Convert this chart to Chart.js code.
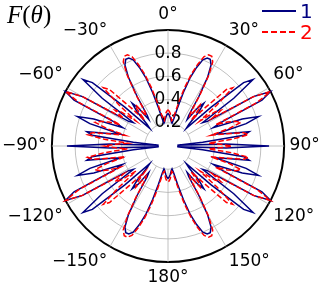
<!DOCTYPE html>
<html>
<head>
<meta charset="utf-8">
<script src="https://cdn.jsdelivr.net/npm/chart.js@4"></script>
<style>
  body { margin: 0; background: #fff; }
  #wrap { position: relative; width: 322px; height: 284px; overflow: hidden; }
  #polar { position: absolute; left: -5px; top: -1px; }
  .ylab { position: absolute; left: 7px; top: 1px; font-family: 'Liberation Serif', serif; font-size: 25px; color: #000; }
  .ylab i { font-style: italic; }
  .leg { position: absolute; left: 300px; font-family: 'DejaVu Sans', sans-serif; font-size: 20px; line-height: 20px; }
  .sw { position: absolute; left: 262px; width: 34px; height: 1.6px; }
</style>
</head>
<body>
<div id="wrap">
  <canvas id="polar" width="332" height="294"></canvas>
  <div class="ylab"><i>F</i>(<i>θ</i>)</div>
  <div class="sw" style="top:10px; background:#000080;"></div>
  <div class="leg" style="top:1px; color:#000080;">1</div>
  <div class="sw" style="top:31px; background:repeating-linear-gradient(to right,#ff0000 0 6px,transparent 6px 9px);"></div>
  <div class="leg" style="top:22px; color:#ff0000;">2</div>
</div>
<script>
// pattern for 0..90 deg, every 2 deg
// (the plot is mirror symmetric about both axes)
const quarterAngles = [0,2,4,6,8,10,12,14,16,18,20,22,24,26,28,30,32,34,36,38,40,42,44,
  46,48,50,52,54,56,58,60,62,64,66,68,70,72,74,76,78,80,82,84,86,88,90];
const series1Quarter = [0.28,0.27,0.25,0.23,0.21,0.20,0.24,0.34,0.48,0.62,0.72,0.80,0.83,0.83,0.79,0.68,0.50,0.32,
  0.28,0.42,0.48,0.40,0.26,0.22,0.50,0.85,0.93,0.70,0.36,0.40,0.85,1.00,0.90,0.50,0.42,0.68,0.82,0.70,0.42,
  0.52,0.71,0.66,0.30,0.08,0.50,0.87];
const series2Quarter = [0.31,0.30,0.28,0.25,0.22,0.23,0.29,0.40,0.53,0.65,0.75,0.83,0.86,0.86,0.82,0.70,0.52,0.35,
  0.32,0.45,0.42,0.30,0.45,0.70,0.75,0.55,0.35,0.50,0.55,0.45,0.85,1.00,0.85,0.45,0.55,0.62,0.66,0.55,0.38,
  0.50,0.66,0.70,0.55,0.35,0.45,0.55];
const thetaTicks = [0, 30, 60, 90, 120, 150, 180, -150, -120, -90, -60, -30];
const radialTicks = [0.2, 0.4, 0.6, 0.8];

// full circle, clockwise from the top
const angleLabels = [];
for (let a = 0; a < 360; a += 2) angleLabels.push(a <= 180 ? a : a - 360);

function unfold(q) {
  return angleLabels.map(a => {
    let t = Math.abs(a);
    if (t > 90) t = 180 - t;
    return q[quarterAngles.indexOf(t)];
  });
}

function fmtAngle(a) {
  return (a < 0 ? '\u2212' + (-a) : '' + a) + '°';
}

const ctx = document.getElementById('polar').getContext('2d');
const chart = new Chart(ctx, {
  type: 'radar',
  data: {
    labels: angleLabels,
    datasets: [{
      label: '1',
      data: unfold(series1Quarter),
      borderColor: '#000080',
      borderWidth: 1.5,
      pointRadius: 0,
      fill: false,
      order: 1
    }, {
      label: '2',
      data: unfold(series2Quarter),
      borderColor: '#ff0000',
      borderWidth: 1.5,
      borderDash: [5.5, 2.5],
      pointRadius: 0,
      fill: false,
      order: 0
    }]
  },
  options: {
    responsive: false,
    animation: false,
    plugins: {
      legend: { display: false },
      tooltip: { enabled: false }
    },
    scales: {
      r: {
        min: 0,
        max: 1,
        ticks: {
          stepSize: 0.2,
          showLabelBackdrop: false,
          backdropPadding: 0,
          color: '#000',
          font: { family: 'DejaVu Sans', size: 17 },
          callback: function (v) {
            const r = Math.round(v * 10) / 10;
            return radialTicks.includes(r) ? r.toFixed(1) : '';
          }
        },
        grid: {
          circular: true,
          color: c => c.tick && c.tick.value === 1 ? '#000' : '#b0b0b0',
          lineWidth: c => c.tick && c.tick.value === 1 ? 2 : 0.8
        },
        angleLines: {
          color: c => thetaTicks.includes(angleLabels[c.index]) ? '#b0b0b0' : 'rgba(0,0,0,0)',
          lineWidth: c => thetaTicks.includes(angleLabels[c.index]) ? 0.8 : 0,
          borderDash: c => {
            const inner = c.chart.scales.r ? c.chart.scales.r.drawingArea * 0.2 : 0;
            return [0, inner, 1000];
          }
        },
        pointLabels: {
          padding: -3,
          color: '#000',
          font: { family: 'DejaVu Sans', size: 17 },
          callback: function (lbl) {
            return thetaTicks.includes(lbl) ? fmtAngle(lbl) : '';
          }
        }
      }
    }
  }
});
</script>
</body>
</html>
